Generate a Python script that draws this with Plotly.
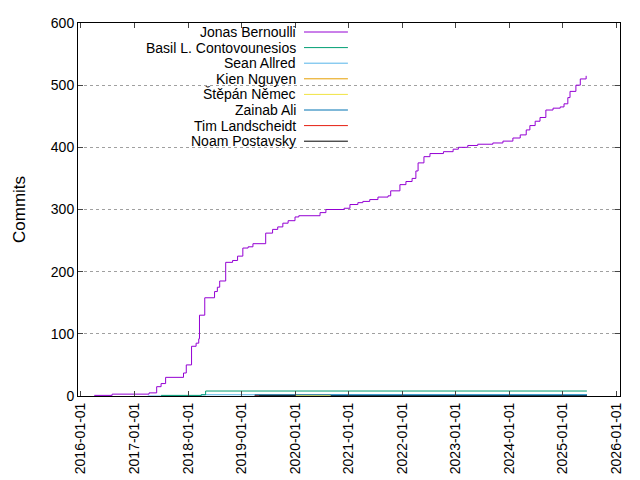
import plotly.graph_objects as go

names = ["Jonas Bernoulli", "Basil L. Contovounesios", "Sean Allred", "Kien Nguyen",
         "Štěpán Němec", "Zainab Ali", "Tim Landscheidt", "Noam Postavsky"]
colors = ["#9400d3", "#009e73", "#56b4e9", "#e69f00", "#f0e442", "#0072b2", "#e51e10", "#000000"]

jonas_dates = ["2016-04-01","2016-08-01","2017-04-10","2017-06-01","2017-07-01","2017-08-01","2017-12-01",
 "2017-12-20","2018-01-25","2018-02-25","2018-03-15","2018-03-20","2018-04-25","2018-07-01","2018-07-20",
 "2018-08-05","2018-09-15","2018-11-01","2018-12-05","2019-01-10","2019-02-15","2019-03-20","2019-06-15",
 "2019-08-01","2019-09-05","2019-10-10","2019-11-15","2020-01-01","2020-01-27","2020-06-20","2020-07-30",
 "2020-12-01","2021-01-10","2021-03-05","2021-04-08","2021-05-25","2021-07-20","2021-09-27","2021-10-15",
 "2021-12-17","2022-01-27","2022-03-10","2022-04-05","2022-04-20","2022-05-30","2022-07-10","2022-10-10",
 "2022-12-15","2023-01-20","2023-03-25","2023-06-01","2023-09-12","2023-11-20","2024-01-27","2024-03-17",
 "2024-04-27","2024-05-22","2024-06-27","2024-07-30","2024-09-08","2024-10-27","2024-12-15","2025-01-10",
 "2025-02-05","2025-02-20","2025-04-01","2025-05-01","2025-06-10"]
jonas_vals = [1,3,5,15,20,30,37,
 50,80,85,92,130,158,168,175,
 185,215,218,225,238,240,245,262,
 268,272,278,282,288,290,295,300,
 302,308,311,313,316,320,322,330,
 340,345,350,362,375,385,390,393,
 397,400,403,405,407,410,415,420,
 428,435,442,448,460,463,465,470,
 480,490,500,510,515]

basil_dates = ["2017-07-01","2018-04-01","2018-05-01","2025-06-15"]
basil_vals = [1,2,8,8]
sean_dates = ["2017-04-01","2018-04-01","2025-06-15"]
sean_vals = [0,2,2]
kien_dates = ["2020-01-01","2020-02-01"]
kien_vals = [0,0]
stepan_dates = ["2020-01-01","2020-09-01"]
stepan_vals = [1,1]
zainab_dates = ["2020-09-01","2025-06-15"]
zainab_vals = [2,2]
tim_dates = ["2019-04-01","2019-05-01"]
tim_vals = [0,0]
noam_dates = ["2019-04-01","2025-06-15"]
noam_vals = [1,1]

series = [(jonas_dates, jonas_vals), (basil_dates, basil_vals), (sean_dates, sean_vals),
          (kien_dates, kien_vals), (stepan_dates, stepan_vals), (zainab_dates, zainab_vals),
          (tim_dates, tim_vals), (noam_dates, noam_vals)]
widths = [1, 1, 1, 1, 1, 1, 1, 3]

fig = go.Figure()
order = [7, 3, 4, 6, 5, 2, 1, 0]
for i in order:
    d, v = series[i]
    fig.add_trace(go.Scatter(x=d, y=v, mode="lines", line=dict(color=colors[i], width=widths[i], shape="hv"),
                             name=names[i], showlegend=False))

for i, n in enumerate(names):
    ypx = 24 + 15.6 * i
    yp = (388 - ypx) / 373
    fig.add_annotation(x=0.406, y=yp, xref="paper", yref="paper", text=n, showarrow=False,
                       xanchor="right", yanchor="middle", font=dict(size=14, color="black"))
    fig.add_shape(type="line", xref="paper", yref="paper", x0=0.417, x1=0.498, y0=yp, y1=yp,
                  line=dict(color=colors[i], width=1))

fig.update_layout(
    width=640, height=480, margin=dict(l=70, r=28, t=15, b=92, autoexpand=False),
    plot_bgcolor="white", paper_bgcolor="white",
    font=dict(family="Liberation Sans, Arial", size=14, color="black"),
    xaxis=dict(type="date", range=["2015-12-12", "2026-01-27"], tickformat="%Y-%m-%d",
               dtick="M12", tick0="2016-01-01", tickangle=-90, showgrid=False, automargin=False,
               showline=True, mirror="ticks", linecolor="black", ticks="inside", ticklen=5,
               zeroline=False),
    yaxis=dict(range=[0, 600], dtick=100, title=dict(text="Commits", standoff=20), automargin=False,
               showgrid=True, gridcolor="#a0a0a0", griddash="dot", gridwidth=1,
               showline=True, mirror="ticks", linecolor="black", ticks="inside", ticklen=5,
               zeroline=False),
)
fig.write_html("out.html")
